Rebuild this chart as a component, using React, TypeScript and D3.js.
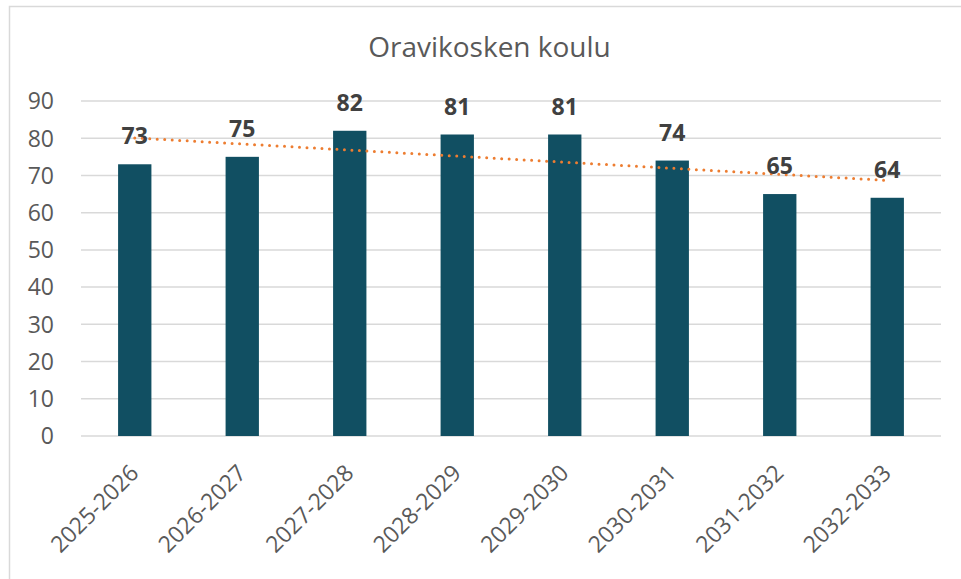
import React, { useEffect, useRef } from "react";
import * as d3 from "d3";

const categories = ["2025-2026", "2026-2027", "2027-2028", "2028-2029", "2029-2030", "2030-2031", "2031-2032", "2032-2033"];
const values = [73, 75, 82, 81, 81, 74, 65, 64];
const yTicks = [0, 10, 20, 30, 40, 50, 60, 70, 80, 90];
const title = "Oravikosken koulu";

const W = 961;
const H = 579;
const FONT = "'Open Sans', 'Noto Sans', sans-serif";

export default function App() {
  const ref = useRef<SVGSVGElement>(null);

  useEffect(() => {
    const svg = d3.select(ref.current);
    svg.selectAll("*").remove();

    const left = 81, right = 941, top = 101, bottom = 436;
    const x = d3.scaleBand<string>().domain(categories).range([left, right]).paddingInner(0.69).paddingOuter(0.345);
    const y = d3.scaleLinear().domain([0, 90]).range([bottom, top]);

    svg.append("rect").attr("x", 0).attr("y", 0).attr("width", W).attr("height", H).attr("fill", "#fff");
    svg.append("rect").attr("x", 9.5).attr("y", 6.5).attr("width", W + 10).attr("height", H + 10)
      .attr("fill", "none").attr("stroke", "#d9d9d9").attr("stroke-width", 1.5);

    svg.append("text").attr("x", 489.5).attr("y", 57).attr("text-anchor", "middle")
      .attr("font-family", FONT).attr("font-size", 28).attr("fill", "#595959").text(title);

    // gridlines
    svg.append("g").selectAll("line").data(yTicks).join("line")
      .attr("x1", left).attr("x2", right)
      .attr("y1", (d) => y(d)).attr("y2", (d) => y(d))
      .attr("stroke", "#d9d9d9").attr("stroke-width", 1.5);

    // y tick labels
    svg.append("g").selectAll("text").data(yTicks).join("text")
      .attr("x", 54).attr("y", (d) => y(d)).attr("dy", "0.36em").attr("text-anchor", "end")
      .attr("font-family", FONT).attr("font-size", 23).attr("fill", "#595959")
      .text((d) => String(d));

    // bars
    svg.append("g").selectAll("rect").data(values).join("rect")
      .attr("x", (_, i) => x(categories[i])!)
      .attr("width", x.bandwidth())
      .attr("y", (d) => y(d))
      .attr("height", (d) => bottom - y(d))
      .attr("fill", "#114F62");

    // trendline (linear regression)
    const n = values.length;
    const xs = values.map((_, i) => i + 1);
    const mx = d3.mean(xs)!;
    const my = d3.mean(values)!;
    const sxy = d3.sum(xs.map((v, i) => (v - mx) * (values[i] - my)));
    const sxx = d3.sum(xs.map((v) => (v - mx) ** 2));
    const slope = sxy / sxx;
    const icpt = my - slope * mx;
    const cx = (i: number) => x(categories[i])! + x.bandwidth() / 2;
    const line = d3.line<number>().x((i) => cx(i)).y((i) => y(icpt + slope * (i + 1)));
    svg.append("path").datum([0, n - 1]).attr("d", line)
      .attr("fill", "none").attr("stroke", "#ED7D31").attr("stroke-width", 3)
      .attr("stroke-linecap", "round").attr("stroke-dasharray", "0 7.5");

    // data labels
    svg.append("g").selectAll("text").data(values).join("text")
      .attr("x", (_, i) => cx(i)).attr("y", (d) => y(d) - 20).attr("text-anchor", "middle")
      .attr("font-family", FONT).attr("font-size", 23).attr("font-weight", "bold").attr("fill", "#404040")
      .text((d) => String(d));

    // x labels
    svg.append("g").selectAll("text").data(categories).join("text")
      .attr("transform", (d, i) => `translate(${cx(i) - 6},${463}) rotate(-45)`)
      .attr("text-anchor", "end").attr("dy", "0.7em")
      .attr("font-family", FONT).attr("font-size", 23).attr("fill", "#595959")
      .text((d) => d);
  }, []);

  return (
    <svg ref={ref} width={W} height={H} style={{ position: "absolute", left: 0, top: 0 }} />
  );
}
